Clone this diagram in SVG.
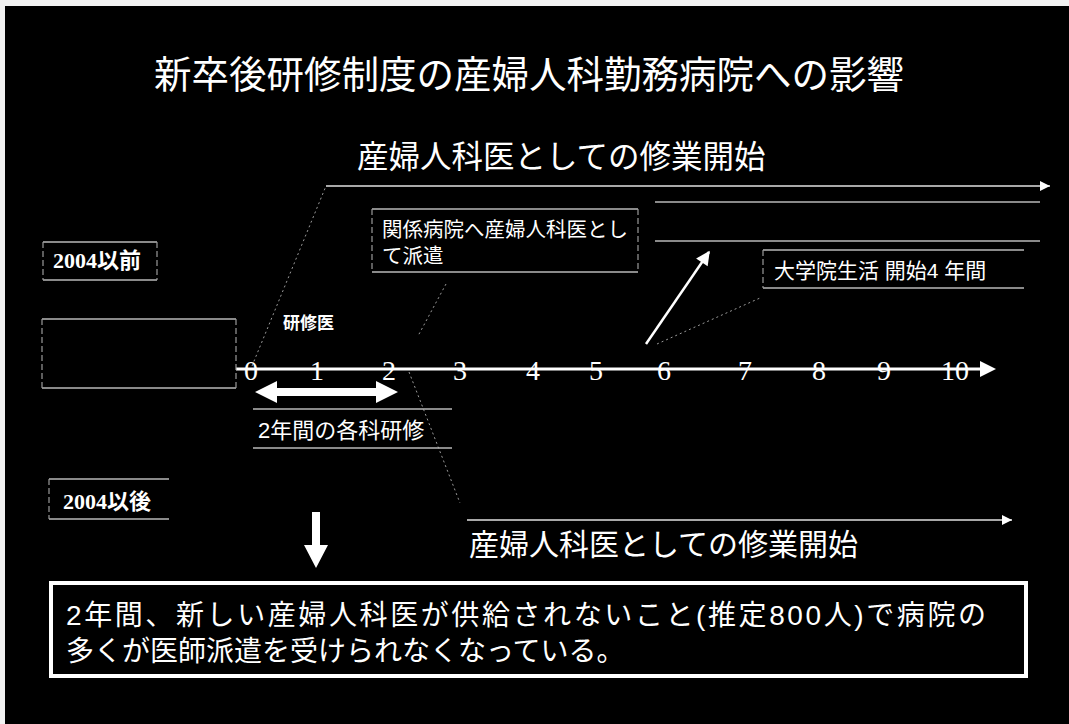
<svg xmlns="http://www.w3.org/2000/svg" width="1069" height="724" viewBox="0 0 1069 724">
<style>
.jp{font-family:"Liberation Sans","Noto Sans CJK JP",sans-serif;fill:#fff}
.num{font-family:"Liberation Serif","DejaVu Serif",serif;fill:#fff;font-size:28px;text-anchor:middle}
.yr{font-family:"Liberation Serif","Noto Sans CJK JP",serif;fill:#fff;font-size:22px;font-weight:bold}
.box{fill:none;stroke:#b8b8b8;stroke-width:1.5}
.side{stroke:#9a9a9a;stroke-width:1.2;stroke-dasharray:6 3}
.ln{stroke:#e0e0e0;stroke-width:1.5;fill:none}
.dot{stroke:#9a9a9a;stroke-width:1;stroke-dasharray:2 3;fill:none}
</style>
<defs>
<marker id="ah" viewBox="0 0 10 10" refX="10" refY="5" markerWidth="10" markerHeight="10" markerUnits="userSpaceOnUse" orient="auto">
<path d="M0,0 L10,5 L0,10 Z" fill="#fff"/>
</marker>
<marker id="ahL" viewBox="0 0 10 10" refX="9" refY="5" markerWidth="16" markerHeight="14" markerUnits="userSpaceOnUse" orient="auto">
<path d="M0,0 L10,5 L0,10 Z" fill="#fff"/>
</marker>
</defs>
<rect x="0" y="0" width="1069" height="724" fill="#f2f2f2"/>
<rect x="5" y="6" width="1064" height="718" fill="#000"/>

<g id="title">
<text class="jp" x="529" y="88" font-size="37.5" text-anchor="middle">新卒後研修制度の産婦人科勤務病院への影響</text>
</g>

<g id="connectors">
<line class="ln" x1="326" y1="186" x2="1050" y2="186" marker-end="url(#ah)"/>
<line class="dot" x1="252" y1="366" x2="326" y2="186"/>
<line class="dot" x1="409" y1="372" x2="460" y2="503"/>
<line class="ln" x1="467" y1="520" x2="1012" y2="520" marker-end="url(#ah)"/>
<line class="dot" x1="446" y1="284" x2="418" y2="336"/>
<line class="dot" x1="657" y1="344" x2="760" y2="298"/>
<line x1="646" y1="344" x2="709" y2="252" stroke="#fff" stroke-width="2.5" marker-end="url(#ahL)"/>
</g>

<g id="timeline">
<line x1="236" y1="369" x2="984" y2="369" stroke="#fff" stroke-width="3"/>
<polygon points="980,361 996,369 980,377" fill="#fff"/>
<text class="num" x="251" y="380">0</text>
<text class="num" x="317" y="380">1</text>
<text class="num" x="389" y="380">2</text>
<text class="num" x="460" y="380">3</text>
<text class="num" x="533" y="380">4</text>
<text class="num" x="596" y="380">5</text>
<text class="num" x="664" y="380">6</text>
<text class="num" x="745" y="380">7</text>
<text class="num" x="819" y="380">8</text>
<text class="num" x="884" y="380">9</text>
<text class="num" x="955" y="380">10</text>
</g>

<g id="top-start">
<text class="jp" x="357" y="168" font-size="31.5">産婦人科医としての修業開始</text>
</g>

<g id="before2004">
<line class="box" x1="43" y1="242" x2="157" y2="242"/>
<line class="box" x1="43" y1="280" x2="157" y2="280"/>
<line class="side" x1="43" y1="242" x2="43" y2="280"/>
<line class="side" x1="157" y1="242" x2="157" y2="280"/>
<text class="yr" x="53" y="268">2004以前</text>
</g>

<g id="faint-left">
<line class="box" x1="42" y1="319" x2="236" y2="319"/>
<line class="box" x1="42" y1="388" x2="236" y2="388"/>
<line class="side" x1="42" y1="319" x2="42" y2="388"/>
<line class="side" x1="236" y1="319" x2="236" y2="388"/>
</g>

<g id="kenshui">
<text class="jp" x="283" y="329" font-size="17" font-weight="bold">研修医</text>
</g>

<g id="haken">
<line class="box" x1="372" y1="209" x2="638" y2="209"/>
<line class="box" x1="372" y1="272" x2="638" y2="272"/>
<line class="side" x1="372" y1="209" x2="372" y2="272"/>
<line class="side" x1="638" y1="209" x2="638" y2="272"/>
<text class="jp" x="382" y="237" font-size="20.5">関係病院へ産婦人科医とし</text>
<text class="jp" x="382" y="263" font-size="20.5">て派遣</text>
</g>

<g id="faint-right">
<line class="box" x1="655" y1="202" x2="1040" y2="202"/>
<line class="box" x1="655" y1="241" x2="1040" y2="241"/>
</g>

<g id="daigakuin">
<line class="box" x1="763" y1="250" x2="1024" y2="250"/>
<line class="box" x1="763" y1="288" x2="1024" y2="288"/>
<line class="side" x1="763" y1="250" x2="763" y2="288"/>
<text class="jp" x="774" y="278" font-size="21">大学院生活 開始4 年間</text>
</g>

<g id="two-year">
<polygon points="255,392 277,381 277,388 376,388 376,381 398,392 376,403 376,396 277,396 277,403" fill="#fff"/>
<line class="box" x1="253" y1="409" x2="452" y2="409"/>
<line class="box" x1="253" y1="448" x2="452" y2="448"/>
<text class="jp" x="258" y="438" font-size="22">2年間の各科研修</text>
</g>

<g id="after2004">
<line class="box" x1="49" y1="479" x2="169" y2="479"/>
<line class="box" x1="49" y1="519" x2="169" y2="519"/>
<line class="side" x1="49" y1="479" x2="49" y2="519"/>
<text class="yr" x="63" y="509">2004以後</text>
</g>

<g id="bottom-start">
<text class="jp" x="469" y="555" font-size="30">産婦人科医としての修業開始</text>
</g>

<g id="down-arrow">
<polygon points="312,512 320,512 320,545 328,545 316,568 304,545 312,545" fill="#fff"/>
</g>

<g id="conclusion">
<rect x="51" y="583" width="975" height="93" fill="none" stroke="#fff" stroke-width="4"/>
<text class="jp" x="66" y="625" font-size="28" textLength="920" lengthAdjust="spacing">2年間、新しい産婦人科医が供給されないこと(推定800人)で病院の</text>
<text class="jp" x="66" y="661" font-size="28">多くが医師派遣を受けられなくなっている。</text>
</g>
</svg>
